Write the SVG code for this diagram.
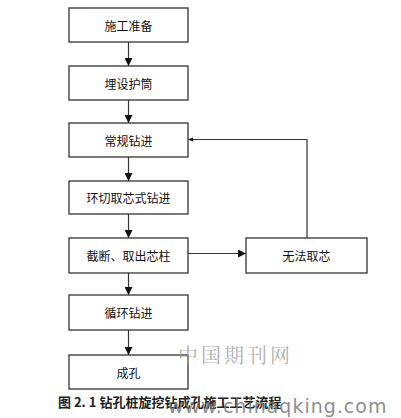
<svg xmlns="http://www.w3.org/2000/svg" width="401" height="418" viewBox="0 0 401 418">
<style>
.box{fill:#fff;stroke:#333;stroke-width:1.3}
.t{font-family:"Noto Sans CJK SC","Liberation Sans",sans-serif;font-size:12px;fill:#111;text-anchor:middle;dominant-baseline:central}
.c{fill:none;stroke:#333;stroke-width:1.2}
</style>
<defs>
<marker id="ah" markerWidth="8" markerHeight="8" refX="8" refY="4" orient="auto" markerUnits="userSpaceOnUse">
<path d="M0,0 L8,4 L0,8 Z" fill="#111"/>
</marker>
<marker id="ahs" markerWidth="6" markerHeight="6" refX="5" refY="3" orient="auto" markerUnits="userSpaceOnUse">
<path d="M0,1 L5,3 L0,5 Z" fill="#111"/>
</marker>
</defs>
<rect width="401" height="418" fill="#fff"/>
<g id="connectors">
<line class="c" x1="128.5" y1="42" x2="128.5" y2="66" marker-end="url(#ah)"/>
<line class="c" x1="128.5" y1="100" x2="128.5" y2="123" marker-end="url(#ah)"/>
<line class="c" x1="128.5" y1="157" x2="128.5" y2="181" marker-end="url(#ah)"/>
<line class="c" x1="128.5" y1="214" x2="128.5" y2="238" marker-end="url(#ah)"/>
<line class="c" x1="128.5" y1="273" x2="128.5" y2="295" marker-end="url(#ah)"/>
<line class="c" x1="128.5" y1="330" x2="128.5" y2="355" marker-end="url(#ah)"/>
<line class="c" x1="188" y1="253.5" x2="246" y2="253.5" marker-end="url(#ah)"/>
<polyline class="c" points="307,238 307,139.5 188,139.5" marker-end="url(#ahs)"/>
</g>
<g id="n1"><rect class="box" x="69" y="8" width="119" height="34"/><text class="t" x="128.5" y="25">施工准备</text></g>
<g id="n2"><rect class="box" x="69" y="66" width="119" height="34"/><text class="t" x="128.5" y="83">埋设护筒</text></g>
<g id="n3"><rect class="box" x="69" y="123" width="119" height="34"/><text class="t" x="128.5" y="140">常规钻进</text></g>
<g id="n4"><rect class="box" x="69" y="181" width="119" height="33"/><text class="t" x="128.5" y="197.5">环切取芯式钻进</text></g>
<g id="n5"><rect class="box" x="69" y="238" width="119" height="35"/><text class="t" x="128.5" y="255.5">截断、取出芯柱</text></g>
<g id="n6"><rect class="box" x="246" y="238" width="121" height="35"/><text class="t" x="306.5" y="255.5">无法取芯</text></g>
<g id="n7"><rect class="box" x="69" y="295" width="119" height="35"/><text class="t" x="128.5" y="312.5">循环钻进</text></g>
<g id="n8"><rect class="box" x="69" y="355" width="119" height="34"/><text class="t" x="128.5" y="372">成孔</text></g>
<text x="58" y="407" font-family="Noto Sans CJK SC,Liberation Sans,sans-serif" font-size="13" font-weight="bold" fill="#222">图 2. 1  钻孔桩旋挖钻成孔施工工艺流程</text>
<text x="178" y="363" font-family="Noto Serif CJK SC,Noto Sans CJK SC,serif" font-size="20" fill="#999" fill-opacity="0.8" letter-spacing="3">中国期刊网</text>
<text x="168" y="413" font-family="DejaVu Sans,sans-serif" font-size="19" fill="#777" fill-opacity="0.85" letter-spacing="1">www.chinaqking.com</text>
</svg>
